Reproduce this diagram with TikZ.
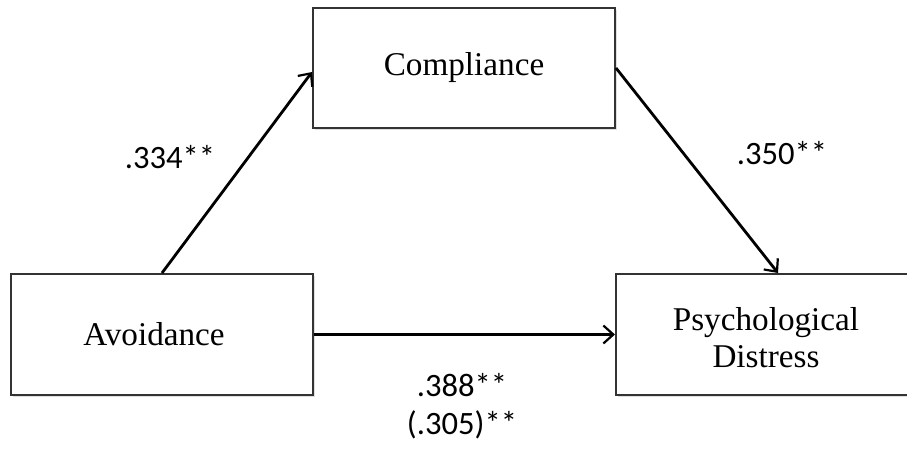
\documentclass[tikz,border=0pt]{standalone}
\usepackage{fontspec}
\setmainfont{Liberation Serif}
\newfontfamily\labelfont{Carlito}
\usetikzlibrary{arrows.meta,shadows,calc}
\begin{document}
\begin{tikzpicture}[x=0.5pt,y=-0.5pt,
  box/.style={draw=black!80, line width=1pt, fill=white, inner sep=0pt,
    align=center, font=\fontsize{16.6pt}{18.5pt}\selectfont,
    drop shadow={opacity=0.25, shadow xshift=0.8pt, shadow yshift=-0.8pt}},
  txt/.style={inner sep=0pt, align=center, font=\fontsize{16.6pt}{18.5pt}\selectfont},
  arr/.style={draw=black, line width=1.4pt, -{Straight Barb[length=5pt,width=9pt,line width=1.1pt]}},
  lbl/.style={font=\labelfont\fontsize{16.3pt}{19pt}\selectfont, align=center, inner sep=0pt}]
\useasboundingbox (0,0) rectangle (907,451);
\clip (0,0) rectangle (907,451);
\node[box, minimum width=151pt, minimum height=60pt] (comp) at (464,68) {Compliance};
\node[box, minimum width=151pt, minimum height=60.5pt] (avoid) at (162,334.5) {};
\node[txt] (avoidtxt) at (154,334.5) {Avoidance};
\node[box, minimum width=150pt, minimum height=60.5pt] (psych) at (766,334.5) {};
\node[txt] (psychtxt) at (766,338) {Psychological\\Distress};
\draw[arr] (avoid.north) -- ([yshift=-2pt]comp.west);
\draw[arr] (comp.east) -- ([xshift=6pt]psych.north);
\draw[arr] (avoid.east) -- (psych.west);
\node[lbl] (l1) at (170,157) {.334**};
\node[lbl] (l2) at (782,153) {.350**};
\node[lbl] (l3) at (462,406) {.388**\\(.305)**};
\end{tikzpicture}
\end{document}
